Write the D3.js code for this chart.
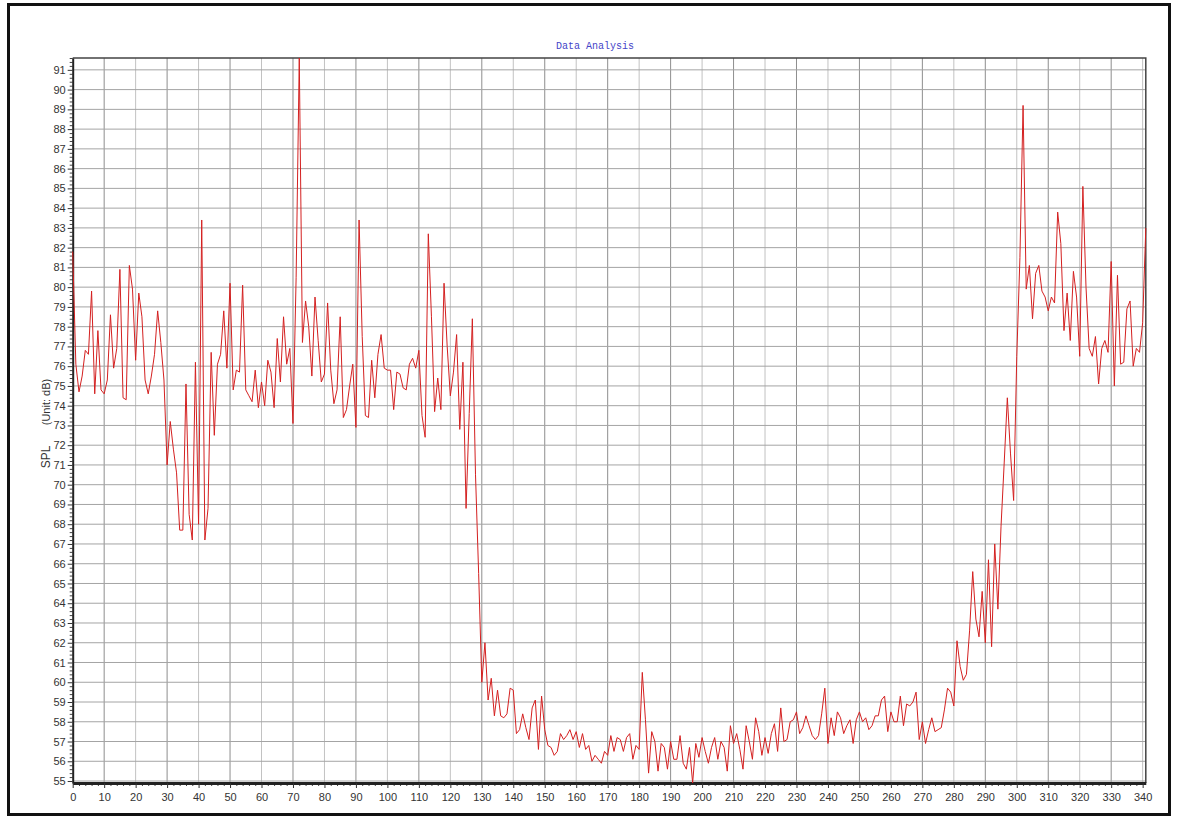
<!DOCTYPE html>
<html>
<head>
<meta charset="utf-8">
<script src="https://cdn.jsdelivr.net/npm/d3@7"></script>
<style>
  body { margin: 0; background: #fff; }
</style>
</head>
<body>
<svg id="chart" width="1179" height="832"></svg>
<script>
// SPL readings, one per sample (index 0..341)
const spl = [
  81.8,76.1,74.7,75.5,76.8,76.6,79.8,74.6,77.8,74.8,
  74.6,75.3,78.6,75.9,76.9,80.9,74.4,74.3,81.1,79.9,
  76.3,79.7,78.5,75.3,74.6,75.5,76.6,78.8,77.2,75.3,
  71.0,73.2,71.8,70.6,67.7,67.7,75.1,68.5,67.2,76.2,
  68.0,83.4,67.2,68.8,76.7,72.5,76.1,76.6,78.8,75.9,
  80.2,74.8,75.8,75.7,80.1,74.8,74.5,74.2,75.8,73.9,
  75.2,74.0,76.3,75.7,73.9,77.4,75.2,78.5,76.1,76.9,
  73.1,80.5,91.6,77.2,79.3,78.0,75.5,79.5,77.3,75.2,
  75.6,79.2,75.8,74.1,74.8,78.5,73.4,73.8,75.0,76.1,
  72.9,83.4,77.5,73.5,73.4,76.3,74.4,76.6,77.6,75.9,
  75.8,75.8,73.8,75.7,75.6,74.9,74.8,76.1,76.4,75.9,
  76.8,73.5,72.4,82.7,78.5,73.7,75.4,73.8,80.2,77.0,
  74.5,75.7,77.6,72.8,76.2,68.8,73.6,78.4,70.5,65.5,
  60.0,62.0,59.1,60.2,58.3,59.6,58.3,58.2,58.4,59.7,
  59.6,57.4,57.6,58.4,57.7,57.1,58.7,59.1,56.6,59.3,
  57.6,56.8,56.7,56.3,56.5,57.4,57.1,57.3,57.6,57.1,
  57.5,56.7,57.4,56.6,56.8,56.0,56.3,56.1,55.9,56.5,
  56.3,57.3,56.5,57.2,57.1,56.5,57.2,57.4,56.1,56.8,
  56.6,60.5,58.1,55.4,57.5,57.0,55.5,56.9,56.7,55.6,
  57.0,56.1,56.1,57.3,55.9,55.6,56.7,54.9,56.9,56.2,
  57.2,56.5,55.9,56.7,57.2,56.1,57.0,56.7,55.5,57.8,
  56.9,57.4,56.6,55.6,57.8,57.0,56.1,58.2,57.5,56.3,
  57.2,56.4,57.4,57.9,56.5,58.7,57.0,57.1,58.0,58.1,
  58.5,57.4,57.7,58.3,57.8,57.3,57.1,57.3,58.4,59.7,
  56.9,58.2,57.3,58.5,58.2,57.4,57.8,58.1,56.9,58.1,
  58.5,58.0,58.2,57.6,57.8,58.3,58.3,59.1,59.3,57.5,
  58.5,58.0,58.0,59.3,57.8,58.9,58.8,59.0,59.5,57.1,
  58.0,56.9,57.6,58.2,57.5,57.6,57.7,58.6,59.7,59.5,
  58.8,62.1,60.8,60.1,60.4,62.6,65.6,63.2,62.3,64.6,
  62.0,66.2,61.8,67.0,63.7,67.9,71.1,74.4,71.6,69.2,
  76.5,81.5,89.2,79.9,81.1,78.4,80.7,81.1,79.8,79.5,
  78.8,79.5,79.2,83.8,82.2,77.8,79.7,77.3,80.8,79.5,
  76.5,85.1,80.0,76.9,76.5,77.5,75.1,76.9,77.3,76.7,
  81.3,75.0,80.6,76.1,76.2,78.9,79.3,76.0,76.9,76.7,
  78.2,83.0
];

const xTicks = [0,10,20,30,40,50,60,70,80,90,100,110,120,130,140,150,160,170,
  180,190,200,210,220,230,240,250,260,270,280,290,300,310,320,330,340];
const yTicks = [55,56,57,58,59,60,61,62,63,64,65,66,67,68,69,70,71,72,73,74,75,
  76,77,78,79,80,81,82,83,84,85,86,87,88,89,90,91];

const title = "Data Analysis";
const yLabel = "SPL";
const yUnit = "(Unit: dB)";

const plotLeft = 72.7, plotRight = 1145.8, plotTop = 58, plotBottom = 783;
const sans = "Liberation Sans, Arial, sans-serif";

const svg = d3.select("#chart");

const x = d3.scaleLinear().domain([0, spl.length - 1]).range([plotLeft, plotRight]);
const y = d3.scaleLinear().domain(d3.extent(spl)).range([plotBottom, plotTop]);

// outer frame
svg.append("rect")
  .attr("x", 8.5).attr("y", 4.5)
  .attr("width", 1161).attr("height", 810)
  .attr("fill", "#fff").attr("stroke", "#111").attr("stroke-width", 3);

// grid (odd tens a bit darker, like the original render)
svg.append("g").selectAll("line")
  .data(xTicks.filter(d => d > 0))
  .enter().append("line")
  .attr("x1", d => x(d)).attr("x2", d => x(d))
  .attr("y1", plotTop).attr("y2", plotBottom)
  .attr("stroke", d => (d / 10) % 2 ? "#8e8e8e" : "#c2c2c2")
  .attr("stroke-width", 1);

svg.append("g").selectAll("line")
  .data(yTicks)
  .enter().append("line")
  .attr("x1", plotLeft).attr("x2", plotRight)
  .attr("y1", d => y(d)).attr("y2", d => y(d))
  .attr("stroke", "#a4a4a4")
  .attr("stroke-width", 1);

// plot border (top/right)
svg.append("path")
  .attr("d", `M${plotLeft},${plotTop}H${plotRight}V${plotBottom}`)
  .attr("fill", "none").attr("stroke", "#444").attr("stroke-width", 1.5);

// minor ticks
const yMinor = d3.range(55, 91.61, 0.2).filter(v => Math.abs(v - Math.round(v)) > 0.01);
svg.append("g")
  .attr("transform", `translate(${plotLeft},0)`)
  .call(d3.axisLeft(y).tickValues(yMinor).tickSize(3).tickFormat(""))
  .call(g => g.select(".domain").remove())
  .selectAll("line").attr("stroke", "#444");

const xMinor = d3.range(0, 342, 2).filter(v => v % 10 !== 0);
svg.append("g")
  .attr("transform", `translate(0,${plotBottom})`)
  .call(d3.axisBottom(x).tickValues(xMinor).tickSize(3).tickFormat(""))
  .call(g => g.select(".domain").remove())
  .selectAll("line").attr("stroke", "#444");

// major axes
const yAxis = svg.append("g")
  .attr("transform", `translate(${plotLeft},0)`)
  .call(d3.axisLeft(y).tickValues(yTicks).tickSize(5).tickPadding(2).tickSizeOuter(0));
yAxis.select(".domain").attr("stroke", "#222").attr("stroke-width", 2);
yAxis.selectAll("line").attr("stroke", "#333");
yAxis.selectAll("text").attr("font-size", 11).attr("fill", "#333").attr("font-family", sans);

const xAxis = svg.append("g")
  .attr("transform", `translate(0,${plotBottom})`)
  .call(d3.axisBottom(x).tickValues(xTicks).tickSize(5).tickPadding(5).tickSizeOuter(0));
xAxis.select(".domain").attr("stroke", "#222").attr("stroke-width", 3);
xAxis.selectAll("line").attr("stroke", "#333");
xAxis.selectAll("text").attr("font-size", 11).attr("fill", "#333").attr("font-family", sans);

// data line
svg.append("path")
  .datum(spl)
  .attr("fill", "none")
  .attr("stroke", "#d42020")
  .attr("stroke-width", 1)
  .attr("d", d3.line().x((d, i) => x(i)).y(d => y(d)));

// title
svg.append("text")
  .attr("x", 595).attr("y", 49)
  .attr("text-anchor", "middle")
  .attr("font-family", "Liberation Mono, DejaVu Sans Mono, monospace")
  .attr("font-size", 10)
  .attr("fill", "#4444c8")
  .text(title);

// y label
svg.append("text")
  .attr("transform", "translate(50,457) rotate(-90)")
  .attr("text-anchor", "middle")
  .attr("font-family", sans)
  .attr("font-size", 12).attr("fill", "#333")
  .text(yLabel);
svg.append("text")
  .attr("transform", "translate(50,402) rotate(-90)")
  .attr("text-anchor", "middle")
  .attr("font-family", sans)
  .attr("font-size", 11).attr("fill", "#333")
  .text(yUnit);
</script>
</body>
</html>
